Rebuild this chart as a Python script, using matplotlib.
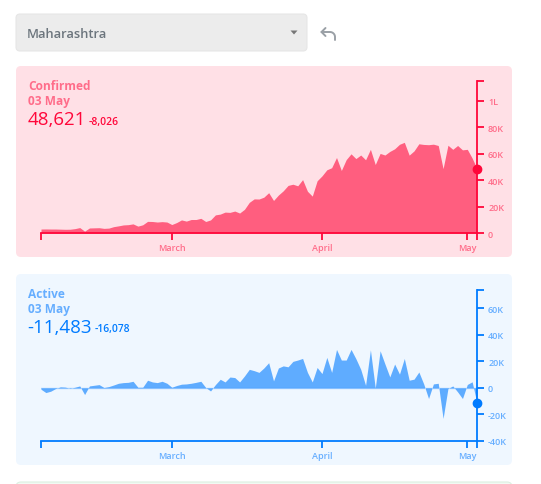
import matplotlib
matplotlib.use("Agg")
import matplotlib.pyplot as plt
import matplotlib.dates as mdates
from matplotlib.patches import FancyBboxPatch, Polygon
from matplotlib.ticker import FixedLocator, FuncFormatter
import numpy as np
import pandas as pd

plt.rcParams['font.family'] = ['Open Sans', 'DejaVu Sans']

state_name = "Maharashtra"
dates = pd.date_range("2021-02-02", "2021-05-03", freq="D")

# daily new confirmed cases
confirmed_daily = [
    3000, 3050, 3000, 3000, 2900, 2800, 2850, 3300, 4100, 1400, 3800, 3900, 4000, 3500, 3700,
    4800, 5400, 6100, 6300, 6900, 5200, 6200, 8800, 8700, 8300, 8600, 8300,
    6400, 7900, 9900, 9000, 10200, 10200, 11100, 8700, 9900, 13700, 14300, 15800, 15600, 16600,
    15100, 17900, 23200, 25800, 25700, 27100, 30500, 24600, 28700, 31900, 36000, 36900, 35700,
    40400, 31600, 27900, 39500,
    43200, 47800, 49400, 57100, 47300, 55500, 59900, 56300, 59000, 55400, 63300, 51800, 60200,
    59000, 61700, 63700, 67100, 68600, 58900, 62100, 67500, 67000, 66800, 67200, 66200, 48700,
    66400, 63300, 66200, 62900, 63300, 56647, 48621,
]

# daily change in active cases
active_daily = [
    -1000, -3500, -2500, -500, 800, 600, -300, 500, 1500, -5000, 1500, 2000, 2500, 300, 1000,
    2200, 3500, 4000, 4200, 5000, 500, 500, 5800, 4500, 4000, 5000, 3500,
    500, 1800, 2800, 3000, 3500, 4200, 5000, 300, -2300, 2500, 6500, 4500, 8200, 7800,
    4500, 9000, 14000, 13000, 11700, 15000, 19000, 5300, 15000, 16600, 15900, 20000, 21000,
    22200, 11700, 4500, 15400,
    10800, 23000, 11700, 29000, 21000, 21000, 29000, 22000, 14000, 2000, 28700, 0, 28000,
    18000, 8300, 18000, 10400, 22200, 5800, 6600, 12000, 3000, -8000, 3000, 3500, -23000,
    -500, 1500, -3000, -8000, 2600, 4595, -11483,
]

confirmed_ticks = [0, 20000, 40000, 60000, 80000, 100000]
confirmed_tick_labels = ["0", "20K", "40K", "60K", "80K", "1L"]
active_ticks = [-40000, -20000, 0, 20000, 40000, 60000]
active_tick_labels = ["-40K", "-20K", "0", "20K", "40K", "60K"]
month_ticks = pd.to_datetime(["2021-03-01", "2021-04-01", "2021-05-01"])

W, H = 541, 485
fig = plt.figure(figsize=(W / 100, H / 100), dpi=100)
fig.patch.set_facecolor("white")

bg = fig.add_axes([0, 0, 1, 1])
bg.set_xlim(0, W)
bg.set_ylim(H, 0)
bg.axis("off")


def rounded_box(x0, y0, x1, y1, face, edge="none", r=5):
    bg.add_patch(FancyBboxPatch((x0, y0), x1 - x0, y1 - y0,
                                boxstyle=f"round,pad=0,rounding_size={r}",
                                facecolor=face, edgecolor=edge, lw=0.8))


# state dropdown
rounded_box(16, 15, 307, 52, "#ececec", "#e6e6e6", r=4)
bg.text(27, 34.5, state_name, fontsize=9.3, fontweight="semibold", color="#6c757d",
        va="center", ha="left")
bg.add_patch(Polygon([[290.5, 31.5], [297.5, 31.5], [294, 35.5]], closed=True,
                     facecolor="#777777", edgecolor="none"))
# undo icon
t = np.linspace(np.pi / 2, 0, 12)
arc_x = list(330 + 5 * np.cos(t))
arc_y = list(38 - 5 * np.sin(t))
bg.plot([321.5, 330] + arc_x + [335], [33, 33] + arc_y + [41], color="#9aa0a6", lw=1.4,
        solid_capstyle="round", solid_joinstyle="round")
bg.plot([325.5, 321.5, 325.5], [29, 33, 37], color="#9aa0a6", lw=1.4,
        solid_capstyle="round", solid_joinstyle="round")

# panels
rounded_box(16, 67, 512, 258, "#ffe0e6")
rounded_box(16, 275, 512, 466, "#eff7ff")
rounded_box(16, 483, 512, 530, "#f1faf3", "#dcefe1")


def header(y_top, title, value, delta, strong, soft):
    bg.text(28, y_top, title, fontsize=8.6, fontweight="bold", color=soft, va="baseline")
    bg.text(28, y_top + 14.5, "03 May", fontsize=8.6, fontweight="bold", color=soft, va="baseline")
    t1 = bg.text(27.5, y_top + 34.5, f"{value:,}", fontsize=13.5, color=strong, va="baseline")
    fig.canvas.draw()
    bb = t1.get_window_extent()
    x_end = bb.x1 * W / fig.bbox.width
    bg.text(x_end + 3, y_top + 34, f"{delta:,}", fontsize=7.4, fontweight="semibold",
            color=strong, va="baseline")


header(90.5, "Confirmed", confirmed_daily[-1], confirmed_daily[-1] - confirmed_daily[-2],
       "#ff073a", "#ff6d8a")
header(298.5, "Active", active_daily[-1], active_daily[-1] - active_daily[-2],
       "#007bff", "#66aeff")


def draw_panel(rect_px, values, ylim, ticks, tick_labels, strong, soft, zero_line=False):
    x0, y0, x1, y1 = rect_px
    ax = fig.add_axes([x0 / W, 1 - y1 / H, (x1 - x0) / W, (y1 - y0) / H])
    ax.patch.set_alpha(0)
    ax.fill_between(dates, 0, values, color=strong, alpha=0.6, lw=0)
    if zero_line:
        ax.axhline(0, color=strong, alpha=0.25, lw=1)
    ax.plot(dates[-1], values[-1], "o", ms=6, color=strong, clip_on=False, zorder=5)
    ax.set_xlim(dates[0], dates[-1])
    ax.set_ylim(*ylim)
    for s in ("top", "left"):
        ax.spines[s].set_visible(False)
    for s in ("right", "bottom"):
        ax.spines[s].set_color(strong)
        ax.spines[s].set_linewidth(1.3)
    ax.yaxis.tick_right()
    ax.yaxis.set_major_locator(FixedLocator(ticks))
    ax.yaxis.set_major_formatter(FuncFormatter(lambda v, p: tick_labels[ticks.index(int(round(v)))]))
    ax.yaxis.set_minor_locator(FixedLocator([ylim[1]]))
    ax.xaxis.set_major_locator(FixedLocator(mdates.date2num(month_ticks)))
    ax.xaxis.set_major_formatter(mdates.DateFormatter("%B"))
    ax.xaxis.set_minor_locator(FixedLocator(mdates.date2num([dates[0], dates[-1]])))
    ax.tick_params(axis="both", which="both", direction="out", length=5, width=1.3,
                   color=strong, labelcolor=soft)
    ax.tick_params(axis="y", labelsize=6.5, pad=3)
    ax.tick_params(axis="x", labelsize=6.5, pad=2)
    for lab in ax.get_xticklabels() + ax.get_yticklabels():
        lab.set_fontweight("semibold")
    return ax


draw_panel((41, 82, 477, 234), confirmed_daily, (0, 115000), confirmed_ticks,
           confirmed_tick_labels, "#ff073a", "#ff6d8a")
draw_panel((41, 290.7, 477, 442), active_daily, (-40000, 74000), active_ticks,
           active_tick_labels, "#007bff", "#66aeff", zero_line=True)

fig.savefig("out.png", dpi=100)
